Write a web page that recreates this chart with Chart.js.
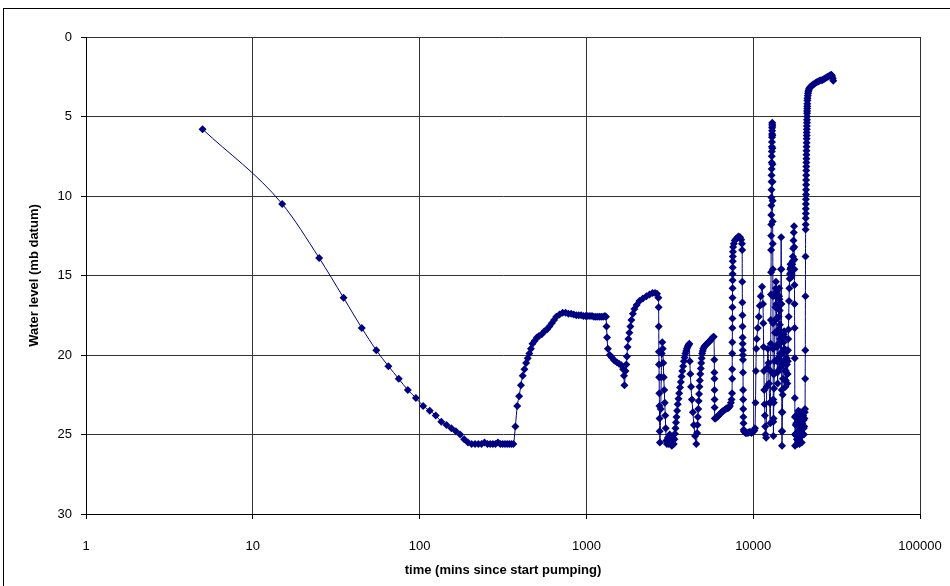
<!DOCTYPE html>
<html>
<head>
<meta charset="utf-8">
<script src="https://cdn.jsdelivr.net/npm/chart.js@4.4.0/dist/chart.umd.min.js"></script>
<style>
  html, body { margin: 0; padding: 0; background: #fff; }
  #wrap { width: 950px; height: 586px; }
</style>
</head>
<body>
<div id="wrap"><canvas id="chart" width="950" height="586"></canvas></div>
<script>
// time since pumping started (minutes) and water level (m below datum)
const timeMins = [
  5, 15, 25, 35, 45, 55, 65, 75, 85, 95, 105, 115, 125, 135, 145, 155, 165, 175, 185, 195, 205,
  215, 225, 235, 245, 255, 265, 275, 285, 295, 305, 315, 325, 335, 345, 355, 365,
  375, 385, 395, 405, 415, 425, 435, 445, 455, 465, 475, 490, 505, 520, 540, 560, 580, 600, 620, 640, 660, 690, 720,
  750, 780, 810, 840, 870, 900, 930, 960, 990, 1020, 1050, 1080, 1110, 1140, 1170, 1200, 1230, 1260, 1290, 1310,
  1320, 1330, 1345, 1380, 1420, 1470, 1520, 1570, 1620, 1660, 1680, 1690, 1715, 1735, 1750, 1765, 1785, 1810, 1835, 1860, 1900, 1940, 2000, 2080, 2180, 2290, 2390, 2490, 2580, 2650, 2700,
  2710, 2715, 2720, 2725, 2730, 2735, 2740, 2745, 2750, 2760,
  2790, 2810, 2830, 2850, 2870, 2890, 2910, 2930, 2950, 2970, 2990, 3010,
  3040, 3080, 3120, 3160, 3200, 3250, 3300, 3340,
  3370, 3395, 3420, 3445, 3470, 3500, 3530, 3565, 3600, 3640, 3680, 3720, 3760, 3800, 3840, 3880, 3920, 3960, 4000, 4040, 4080, 4110, 4140,
  4170, 4200, 4240, 4290, 4350, 4410, 4480, 4560,
  4610, 4635, 4660, 4685, 4710, 4735, 4760, 4790, 4820, 4850, 4880, 4910, 4940, 4980, 5020, 5080, 5150, 5220, 5300, 5380, 5450, 5530, 5620, 5710, 5800,
  5845, 5850, 5855, 5860, 5865, 5870, 5880,
  5950, 6050, 6150, 6250, 6350, 6450, 6550, 6650, 6750, 6850, 6950, 7050, 7150, 7250, 7350, 7420, 7470,
  7480, 7485, 7490, 7495, 7500, 7505, 7510, 7515, 7520, 7525, 7530, 7535, 7540, 7550, 7560, 7580, 7650, 7750, 7900, 8050, 8200, 8350, 8470, 8560,
  8590, 8600, 8610, 8620, 8630, 8640, 8650, 8660, 8670, 8680, 8690, 8700, 8710, 8720, 8730, 8745, 8770,
  8800, 8900, 9000, 9150, 9300, 9450, 9600, 9750, 9900, 10050, 10150,
  10250, 10320, 10380, 10430, 10500, 10650, 10800, 10950, 11100, 11300,
  11450, 11500, 11550, 11600, 11650, 11700, 11750, 11800, 11850, 11950,
  12050, 12150, 12250, 12350, 12450, 12550, 12650,
  12700, 12720, 12740, 12760, 12780, 12795, 12810,
  12820, 12830, 12840, 12850, 12860, 12870, 12880, 12890, 12900, 12910, 12920, 12930, 12940, 12950, 12960, 12970, 12980, 12990, 13000, 13010,
  13020, 13030, 13040, 13050, 13060, 13070, 13085, 13100, 13115, 13130, 13145, 13160, 13175, 13190, 13205, 13220,
  13250, 13290, 13330, 13370, 13410, 13450, 13490, 13530, 13570, 13610, 13650, 13690, 13730, 13770, 13810, 13850, 13890, 13930, 13970, 14010,
  14050, 14090, 14130, 14170, 14210, 14250, 14290, 14330, 14370, 14410, 14450, 14490, 14530, 14570, 14610, 14640, 14665, 14690, 14710,
  14740, 14760, 14780, 14800, 14820, 14840, 14860, 14880,
  14920, 14970, 15020, 15070, 15120, 15170, 15220, 15270, 15320, 15370, 15420, 15470, 15520, 15570, 15620, 15670, 15720, 15770, 15820, 15870, 15920, 15970, 16020, 16070, 16120, 16170, 16220, 16270,
  16320, 16390, 16460, 16530, 16600, 16670, 16740, 16810, 16880, 16950, 17020, 17090, 17160, 17230, 17300, 17370, 17440, 17510, 17580,
  17620, 17640, 17660, 17680, 17700, 17720, 17740, 17760, 17780, 17800, 17830,
  17900, 17975, 18050, 18125, 18200, 18275, 18350, 18425, 18500, 18575, 18650, 18725, 18800, 18875, 18950, 19025, 19100, 19175,
  19250, 19325, 19400, 19475, 19550, 19625, 19700, 19775, 19850, 19925, 20000, 20075, 20150, 20225, 20300, 20375, 20450,
  20500, 20530, 20560, 20590,
  20620, 20635, 20650, 20665, 20680, 20695, 20710, 20725, 20740, 20755, 20770, 20785, 20800, 20815, 20830, 20845, 20860,
  20875, 20890, 20905, 20920, 20935, 20950, 20965, 20980, 20995, 21010, 21025, 21040, 21055, 21070, 21085, 21100,
  21130, 21170, 21230, 21300, 21400, 21500, 21650, 21800, 22000, 22250, 22500, 22800, 23200, 23600, 24000,
  24500, 25000, 25500, 26000, 26500, 27000, 27500, 28000, 28500, 29000, 29400, 29700, 30000, 30200
];
const waterLevel = [
  5.8, 10.5, 13.9, 16.4, 18.3, 19.7, 20.7, 21.5, 22.2, 22.7, 23.2, 23.5, 23.8, 24.2, 24.4, 24.6, 24.8, 25.0, 25.3, 25.5, 25.6,
  25.6, 25.6, 25.6, 25.5, 25.6, 25.6, 25.6, 25.6, 25.5, 25.6, 25.6, 25.6, 25.6, 25.6, 25.6, 25.6,
  24.5, 23.2, 22.6, 21.9, 21.3, 20.9, 20.5, 20.2, 19.9, 19.6, 19.3, 19.1, 18.9, 18.8, 18.7, 18.5, 18.4, 18.2, 18.0, 17.8, 17.6, 17.45, 17.35,
  17.35, 17.4, 17.4, 17.45, 17.5, 17.5, 17.5, 17.55, 17.55, 17.55, 17.55, 17.55, 17.6, 17.6, 17.6, 17.6, 17.6, 17.6, 17.55, 17.6,
  18.2, 18.9, 19.6, 20.0, 20.15, 20.35, 20.45, 20.55, 20.65, 20.9, 21.3, 21.9, 21.0, 20.6, 20.1, 19.5, 19.0, 18.6, 18.2, 17.8, 17.4, 17.1, 16.85, 16.6, 16.45, 16.3, 16.2, 16.1, 16.1, 16.15, 16.4,
  17.0, 18.2, 19.8, 20.6, 21.4, 22.4, 23.2, 24.0, 24.8, 25.5,
  23.4, 21.4, 19.9, 19.2, 19.6, 20.5, 21.4, 22.2, 23.0, 23.8, 24.6, 25.4,
  25.6, 25.2, 25.6, 25.0, 25.5, 25.7, 25.2, 25.6,
  25.3, 24.95, 24.6, 24.25, 23.9, 23.5, 23.1, 22.75, 22.4, 22.05, 21.7, 21.35, 21.0, 20.7, 20.4, 20.15, 19.9, 19.75, 19.6, 19.5, 19.4, 19.35, 19.3,
  20.4, 21.2, 22.0, 22.8, 23.6, 24.4, 25.1, 25.6,
  24.9, 24.4, 23.9, 23.4, 22.9, 22.45, 22.0, 21.6, 21.2, 20.85, 20.5, 20.2, 19.9, 19.75, 19.6, 19.5, 19.4, 19.35, 19.3, 19.2, 19.15, 19.1, 19.0, 18.9, 18.85,
  20.3, 21.1, 21.5, 22.2, 22.8, 23.3, 24.0,
  24.0, 23.9, 23.85, 23.75, 23.7, 23.6, 23.55, 23.5, 23.45, 23.4, 23.35, 23.35, 23.3, 23.2, 23.0, 22.8, 22.4,
  21.5, 20.9, 19.9, 19.2, 18.3, 17.7, 17.0, 16.4, 15.8, 15.3, 14.9, 14.5, 14.1, 13.8, 13.5, 13.2, 13.0, 12.8, 12.7, 12.6, 12.55, 12.6, 12.75, 13.0,
  13.4, 15.4, 16.7, 17.5, 18.2, 18.9, 19.3, 19.7, 20.0, 20.3, 21.1, 22.2, 22.8, 23.4, 23.9, 24.3, 24.7,
  24.8, 24.85, 24.9, 24.9, 24.9, 24.85, 24.85, 24.9, 24.85, 24.8, 24.75,
  24.6, 23.0, 21.0, 19.6, 19.0, 18.3, 17.6, 16.9, 16.3, 15.7,
  16.8, 18.0, 19.5, 21.0, 22.2, 23.1, 23.8, 24.5, 25.0, 25.2,
  22.0, 20.8, 19.6, 20.5, 21.8, 23.0, 24.3,
  23.0, 21.0, 19.3, 17.8, 16.2, 14.8, 13.4,
  12.5, 11.8, 11.2, 10.6, 10.1, 9.6, 9.1, 8.7, 8.3, 7.9, 7.5, 7.2, 6.9, 6.6, 6.3, 6.1, 5.9, 5.7, 5.5, 5.4,
  5.6, 6.2, 7.0, 8.0, 9.1, 10.3, 11.6, 13.0, 14.6, 16.3, 18.0, 19.6, 21.2, 22.8, 24.2, 25.1,
  24.0, 23.0, 22.1, 21.2, 20.4, 19.5, 18.6, 17.8, 17.0, 16.3, 15.8, 15.4, 16.0, 16.8, 17.7, 18.6, 19.5, 20.4, 21.1, 21.8,
  21.0, 20.2, 19.3, 18.4, 17.6, 16.9, 16.3, 15.8, 16.5, 17.2, 18.1, 19.0, 19.9, 20.8, 20.0, 18.5, 16.8, 14.6, 12.6,
  14.6, 16.8, 18.8, 20.6, 22.2, 23.6, 24.8, 25.7,
  24.8, 23.6, 22.5, 21.5, 20.6, 19.8, 19.2, 18.7, 18.5, 18.9, 19.6, 20.3, 21.0, 21.6, 22.0, 21.6, 21.0, 20.4, 19.8, 20.2, 20.6, 21.2, 21.8, 21.2, 20.4, 19.7, 19.0, 18.4,
  17.6, 16.6, 15.8, 15.2, 14.9, 14.6, 14.3, 14.5, 14.8, 15.1, 14.9, 14.6, 14.3, 14.1, 13.8, 13.3, 12.8, 12.3, 11.9,
  13.2, 14.0, 14.6, 15.6, 16.8, 18.3, 20.2, 22.7, 23.9, 25.0, 25.7,
  25.0, 24.4, 23.8, 24.3, 24.9, 25.3, 25.6, 25.0, 24.2, 23.8, 23.5, 24.1, 24.8, 25.3, 25.6, 25.0, 24.4, 23.9,
  23.6, 24.1, 24.6, 25.1, 25.5, 24.9, 24.3, 23.9, 23.6, 23.8, 24.1, 24.6, 25.0, 24.5, 24.0, 23.6, 23.4,
  21.5, 19.7, 16.3, 13.8,
  12.1, 11.8, 11.4, 11.1, 10.8, 10.5, 10.2, 9.9, 9.6, 9.3, 9.0, 8.7, 8.4, 8.15, 7.9, 7.65, 7.4,
  7.15, 6.9, 6.65, 6.4, 6.2, 6.0, 5.8, 5.6, 5.4, 5.2, 5.0, 4.8, 4.65, 4.5, 4.35, 4.2,
  4.0, 3.85, 3.7, 3.55, 3.45, 3.35, 3.25, 3.2, 3.15, 3.1, 3.05, 3.0, 2.95, 2.9, 2.85,
  2.8, 2.75, 2.72, 2.7, 2.65, 2.6, 2.55, 2.5, 2.45, 2.4, 2.38, 2.45, 2.6, 2.75
];
const xTickValues = [1, 10, 100, 1000, 10000, 100000];
const yTickValues = [0, 5, 10, 15, 20, 25, 30];

const fontFamily = "'Liberation Sans', Arial, sans-serif";
const points = timeMins.map((t, i) => ({ x: t, y: waterLevel[i] }));

// white background and the outer frame around the chart
const framePlugin = {
  id: 'frame',
  beforeDraw(chart) {
    const c = chart.ctx;
    c.save();
    c.fillStyle = '#fff';
    c.fillRect(0, 0, chart.width, chart.height);
    c.strokeStyle = '#000';
    c.lineWidth = 1;
    c.strokeRect(3.5, 8.5, chart.width + 20, chart.height + 20);
    c.restore();
  }
};

new Chart(document.getElementById('chart'), {
  type: 'scatter',
  data: {
    datasets: [{
      label: 'Water level',
      data: points,
      showLine: true,
      borderColor: '#000080',
      backgroundColor: '#000080',
      borderWidth: 1,
      cubicInterpolationMode: 'monotone',
      pointStyle: 'rectRot',
      pointRadius: 4,
      pointHoverRadius: 4,
      pointBorderWidth: 0,
      fill: false
    }]
  },
  options: {
    responsive: false,
    animation: false,
    layout: { padding: { left: 0, right: 30, top: 37, bottom: 0 } },
    plugins: {
      legend: { display: false },
      tooltip: { enabled: false }
    },
    scales: {
      x: {
        type: 'logarithmic',
        min: 1,
        max: 100000,
        afterBuildTicks: s => { s.ticks = xTickValues.map(v => ({ value: v })); },
        afterFit: s => { s.height = 72; s.paddingLeft = 0; s.paddingRight = 0; },
        ticks: {
          callback: v => String(v),
          autoSkip: false,
          maxRotation: 0,
          color: '#000',
          padding: 20,
          font: { family: fontFamily, size: 13 }
        },
        grid: { color: '#333', tickColor: '#000', tickLength: 5 },
        border: { color: '#000' },
        title: {
          display: true,
          text: 'time (mins since start pumping)',
          color: '#000',
          padding: { top: 4, bottom: 8 },
          font: { family: fontFamily, size: 13, weight: 'bold' }
        }
      },
      y: {
        type: 'linear',
        reverse: true,
        min: 0,
        max: 30,
        afterBuildTicks: s => { s.ticks = yTickValues.map(v => ({ value: v })); },
        afterFit: s => { s.width = 86; s.paddingTop = 0; s.paddingBottom = 0; },
        ticks: {
          color: '#000',
          padding: 9,
          font: { family: fontFamily, size: 13 }
        },
        grid: { color: '#333', tickColor: '#000', tickLength: 5 },
        border: { color: '#000' },
        title: {
          display: true,
          text: 'Water level (mb datum)',
          color: '#000',
          padding: { top: 27, bottom: 0 },
          font: { family: fontFamily, size: 13, weight: 'bold' }
        }
      }
    }
  },
  plugins: [framePlugin]
});
</script>
</body>
</html>
